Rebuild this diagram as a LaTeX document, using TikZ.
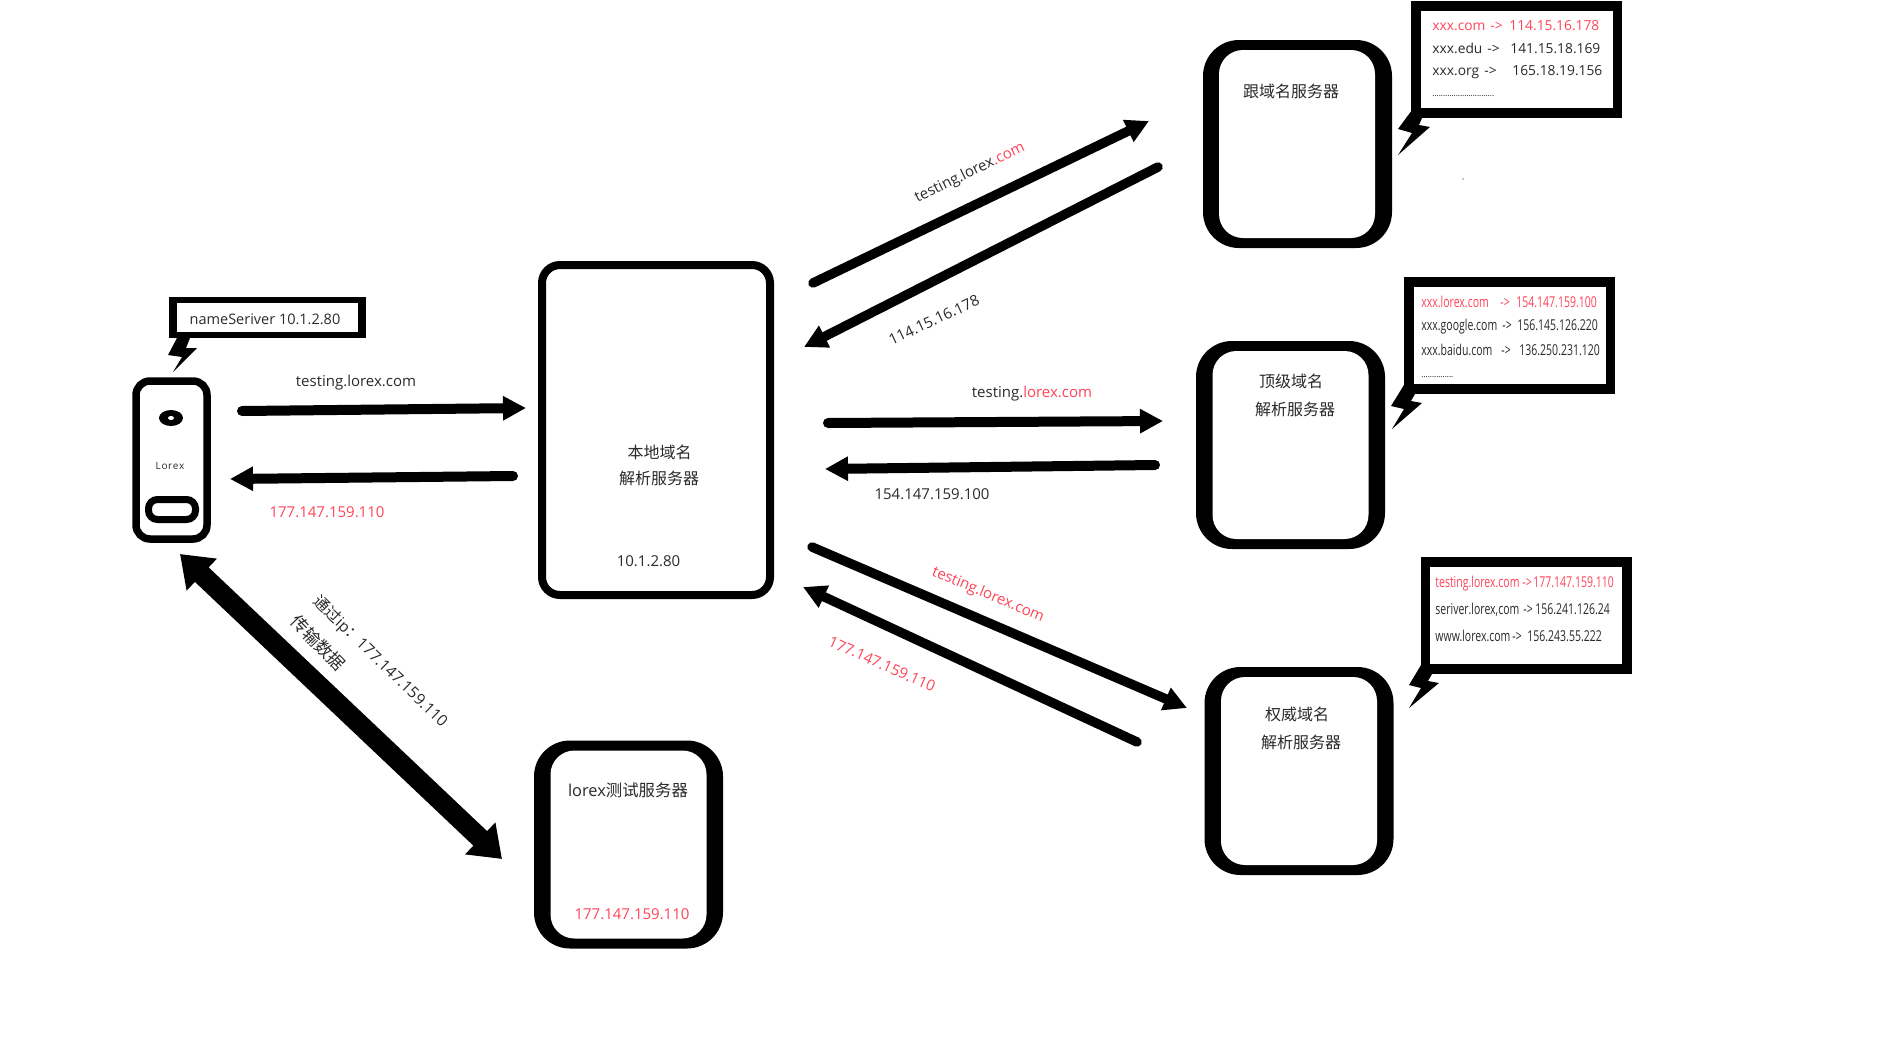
\documentclass[tikz,border=0pt]{standalone}
\usepackage{fontspec}
\setmainfont{Open Sans}
\newfontfamily\cjk{Noto Sans CJK SC}
\newfontfamily\narrowf[FakeStretch=0.70]{Open Sans}
\usetikzlibrary{arrows.meta,shapes.geometric}
\definecolor{redtxt}{HTML}{FF4458}
\definecolor{darktxt}{HTML}{2A2A2A}
\newcommand{\fsz}[1]{\fontsize{#1}{#1}\selectfont}
\newcommand{\rowtext}[5]{\makebox[#1pt][l]{#2}\makebox[#3pt][l]{#4}#5}
\tikzset{
  lbl/.style={inner sep=0pt,text=darktxt,font=\fsz{7.5}},
  redlbl/.style={lbl,text=redtxt},
  cjklbl/.style={inner sep=0pt,text=darktxt,font=\fsz{8}\cjk},
  rowlbl/.style={inner sep=0pt,anchor=west,text=darktxt,font=\fsz{6.9}},
  narrowlbl/.style={inner sep=0pt,anchor=west,text=darktxt,font=\fsz{7.5}\narrowf},
  srvouter/.style={fill=black,inner sep=0pt,minimum width=94.5pt,minimum height=104pt,rounded corners=18pt},
  srvinner/.style={fill=white,inner sep=0pt,minimum width=78pt,minimum height=94pt,rounded corners=12pt},
  calloutouter/.style={fill=black,inner sep=0pt,minimum width=105.5pt,minimum height=58.5pt},
  calloutinner/.style={fill=white,inner sep=0pt,minimum width=96pt,minimum height=48.5pt},
  conn/.style={draw=black,line width=5pt,line cap=round,-{Triangle[length=11.5pt,width=11.5pt]}},
  connthin/.style={conn,line width=4.75pt},
  bigconn/.style={draw=black,line width=10pt,{Triangle[length=15pt,width=21pt]}-{Triangle[length=15pt,width=21pt]}},
}
\begin{document}
\begin{tikzpicture}[x=0.5pt,y=-0.5pt]
\useasboundingbox (0,0) rectangle (1885,1039);
% device
\node[draw=black,fill=white,line width=3.75pt,inner sep=0pt,minimum width=35.5pt,minimum height=79pt,rounded corners=7pt] (dev) at (171.5,460) {};
\node[ellipse,fill=black,inner sep=0pt,minimum width=12pt,minimum height=8pt] (cam) at (171,418) {};
\node[ellipse,fill=white,inner sep=0pt,minimum width=3pt,minimum height=2pt] (camhole) at (171,418) {};
\node[inner sep=0pt,text=darktxt,font=\fsz{5}] (devname) at (170,466) {L\kern.3pt o\kern.3pt r\kern.3pt e\kern.3pt x};
\node[draw=black,fill=white,line width=3.5pt,inner sep=0pt,minimum width=23.5pt,minimum height=10pt,rounded corners=4.5pt] (btn) at (172,509.5) {};
% device callout
\node[fill=black,inner sep=0pt,minimum width=98.5pt,minimum height=20.5pt] (nsouter) at (267.5,317.5) {};
\node[fill=white,inner sep=0pt,minimum width=90.5pt,minimum height=14.5pt] (nsinner) at (267.5,317.5) {};
\fill[black] (177,338)--(168,355)--(182,357)--(173,372)--(197,348)--(186,348)--(190,338)--cycle;
\node[lbl,font=\fsz{7.25}] (nstext) at (265,319.5) {nameSeriver 10.1.2.80};
% local server
\node[draw=black,fill=white,line width=4pt,inner sep=0pt,minimum width=114pt,minimum height=165pt,rounded corners=9pt] (local) at (656,430) {};
\node[cjklbl] (local1) at (659.5,452) {本地域名};
\node[cjklbl] (local2) at (659,478) {解析服务器};
\node[lbl] (local3) at (648.5,561) {10.1.2.80};
% test server
\node[srvouter] (testo) at (628.5,844.5) {};
\node[srvinner] (testi) at (628.5,844.5) {};
\node[cjklbl,font=\fsz{8.2}\cjk] (test1) at (628,790.5) {{\rmfamily lorex}测试服务器};
\node[redlbl] (test2) at (632,914) {177.147.159.110};
% root server
\node[srvouter] (rooto) at (1297.5,144) {};
\node[srvinner] (rooti) at (1297,144) {};
\node[cjklbl] (root1) at (1291,91) {跟域名服务器};
\node[calloutouter] (rootco) at (1516.5,59.5) {};
\node[calloutinner] (rootci) at (1517,59.5) {};
\fill[black] (1412,110)--(1398,129)--(1412,133)--(1398,155)--(1430,127)--(1419,125)--(1422,118)--cycle;
\node[rowlbl,text=redtxt] (rootr1) at (1432,26) {\rowtext{29}{xxx.com}{9.5}{->}{114.15.16.178}};
\node[rowlbl] (rootr2) at (1432,48) {\rowtext{27.5}{xxx.edu}{11.5}{->}{141.15.18.169}};
\node[rowlbl] (rootr3) at (1432,72) {\rowtext{26}{xxx.org}{14}{->}{165.18.19.156}};
\node[rowlbl,font=\fsz{4},text=black] (rootr4) at (1432,96) {.............................};
\fill[black] (1463,179) circle (0.3pt);
% tld server
\node[srvouter] (tldo) at (1290.5,445) {};
\node[srvinner] (tldi) at (1290.5,445) {};
\node[cjklbl] (tld1) at (1291,381) {顶级域名};
\node[cjklbl] (tld2) at (1295,409) {解析服务器};
\node[calloutouter] (tldco) at (1509,335.5) {};
\node[calloutinner] (tldci) at (1509.5,335.5) {};
\fill[black] (1404,385)--(1391,406)--(1404,409)--(1392,429)--(1422,403)--(1411,401)--(1415,394)--cycle;
\node[narrowlbl,text=redtxt] (tldr1) at (1421,302) {\rowtext{39.5}{xxx.lorex.com}{8}{->}{154.147.159.100}};
\node[narrowlbl] (tldr2) at (1421,327) {\rowtext{40.5}{xxx.google.com}{7.5}{->}{156.145.126.220}};
\node[narrowlbl] (tldr3) at (1421,350) {\rowtext{40}{xxx.baidu.com}{9}{->}{136.250.231.120}};
\node[narrowlbl,font=\fsz{4},text=black] (tldr4) at (1421,377) {...............};
% auth server
\node[srvouter] (autho) at (1299,771) {};
\node[srvinner] (authi) at (1299,771) {};
\node[cjklbl] (auth1) at (1297,714) {权威域名};
\node[cjklbl] (auth2) at (1301,742) {解析服务器};
\node[calloutouter] (authco) at (1526.5,615.5) {};
\node[calloutinner] (authci) at (1526,615.5) {};
\fill[black] (1421,665)--(1409,685)--(1421,688)--(1409,708)--(1439,683)--(1428,681)--(1432,674)--cycle;
\node[narrowlbl,text=redtxt] (authr1) at (1435,584) {\rowtext{43.5}{testing.lorex.com}{5.5}{->}{177.147.159.110}};
\node[narrowlbl] (authr2) at (1435,610) {\rowtext{44}{seriver.lorex,com}{6}{->}{156.241.126.24}};
\node[narrowlbl] (authr3) at (1435,636) {\rowtext{38.5}{www.lorex.com}{7.5}{->}{156.243.55.222}};
% connector ends
\coordinate (a1s) at (242,411); \coordinate (a1e) at (526,408);
\coordinate (a2s) at (513,476); \coordinate (a2e) at (230,479);
\coordinate (b1s) at (813,283); \coordinate (b1e) at (1149,121);
\coordinate (b2s) at (1158,167); \coordinate (b2e) at (804,347);
\coordinate (c1s) at (828,423); \coordinate (c1e) at (1163,421);
\coordinate (c2s) at (1155,465); \coordinate (c2e) at (825,469);
\coordinate (d1s) at (812,547); \coordinate (d1e) at (1187,708);
\coordinate (d2s) at (1137,742); \coordinate (d2e) at (803,587);
\coordinate (e1) at (180,554); \coordinate (e2) at (502,859);
\draw[conn] (a1s) -- (a1e);
\draw[conn] (a2s) -- (a2e);
\draw[connthin] (b1s) -- (b1e);
\draw[connthin] (b2s) -- (b2e);
\draw[conn] (c1s) -- (c1e);
\draw[conn] (c2s) -- (c2e);
\draw[connthin] (d1s) -- (d1e);
\draw[connthin] (d2s) -- (d2e);
\draw[bigconn] (e1) -- (e2);
% labels
\node[lbl] (la1) at (356,383) {testing.lorex.com};
\node[redlbl] (la2) at (327,512) {177.147.159.110};
\node[lbl,rotate=26] (lb1) at (970,173) {testing.lorex\textcolor{redtxt}{.com}};
\node[lbl,rotate=25] (lb2) at (934,320) {114.15.16.178};
\node[lbl] (lc1) at (1032,394) {testing.\textcolor{redtxt}{lorex.com}};
\node[lbl] (lc2) at (932,494) {154.147.159.100};
\node[redlbl,rotate=-23] (ld1) at (988,595) {testing.lorex.com};
\node[redlbl,rotate=-24] (ld2) at (882,664) {177.147.159.110};
\node[lbl,rotate=-44,font=\fsz{7.8}] (le1) at (380,662) {{\cjk 通过}ip{\cjk ：}177.147.159.110};
\node[cjklbl,rotate=-46,font=\fsz{8.6}\cjk] (le2) at (318,643) {传输数据};
\end{tikzpicture}
\end{document}
